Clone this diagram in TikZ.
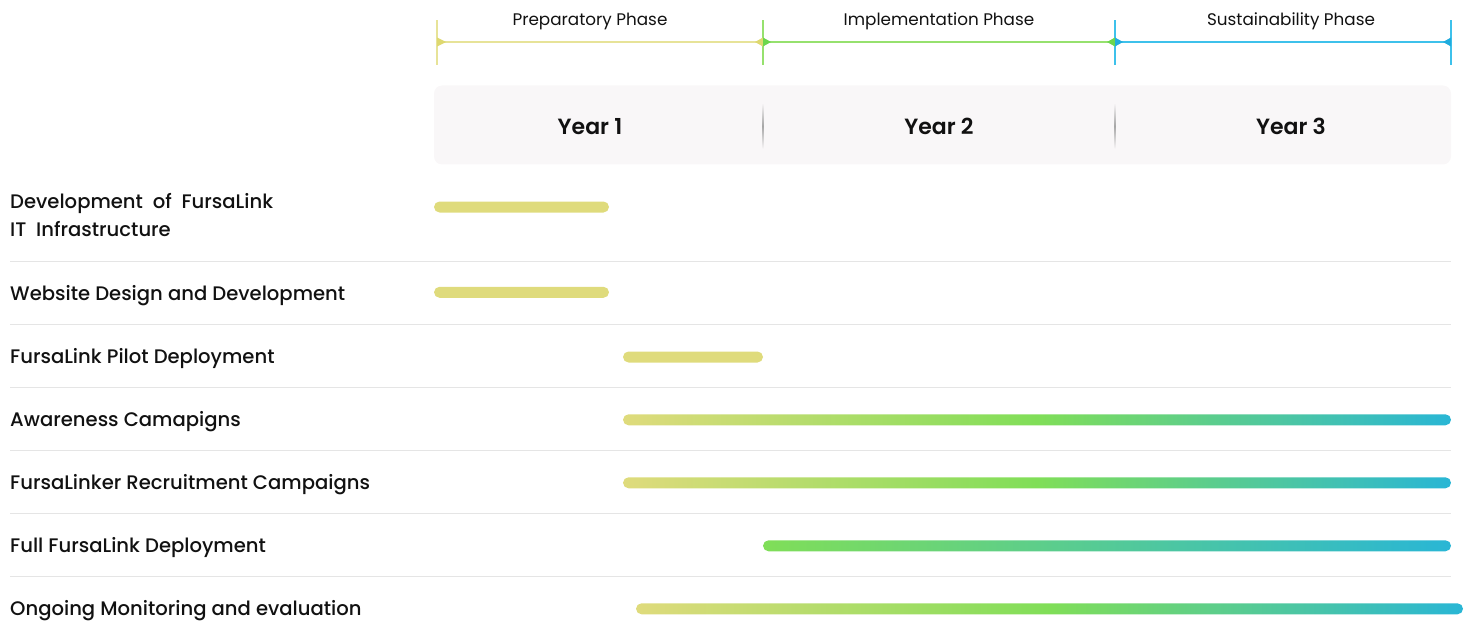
\documentclass[tikz,border=0pt]{standalone}
\usepackage{fontspec}
\setmainfont{Poppins}
\newfontfamily\popmed{Poppins Medium}
\newfontfamily\popsemi{Poppins SemiBold}
\definecolor{barY}{RGB}{223,219,124}
\definecolor{barG}{RGB}{128,222,88}
\definecolor{barB}{RGB}{41,182,213}
\definecolor{lnY}{RGB}{231,227,152}
\definecolor{lnG}{RGB}{150,225,110}
\definecolor{lnB}{RGB}{62,193,235}
\definecolor{tipY}{RGB}{222,216,112}
\definecolor{tipG}{RGB}{108,214,78}
\definecolor{tipB}{RGB}{32,172,222}
\definecolor{boxbg}{RGB}{249,247,248}
\definecolor{rule}{RGB}{229,229,229}
\definecolor{ink}{RGB}{17,17,17}
\tikzset{
  phaselbl/.style={font=\fontsize{16.8}{20}\selectfont, text=ink, inner sep=0pt, anchor=base},
  yearlbl/.style={font=\popsemi\fontsize{22}{26}\selectfont, text=ink, inner sep=0pt, anchor=base},
  tasklbl/.style={font=\popmed\fontsize{19.6}{28.4}\selectfont, text=ink, inner sep=0pt, anchor=base west, align=left},
  rowrule/.style={draw=rule, line width=1.5pt},
  solidbar/.style={fill=barY, rounded corners=5.5pt},
  fullbar/.style={left color=barY, right color=barB, middle color=barG, rounded corners=5.5pt},
  latebar/.style={left color=barG, right color=barB, rounded corners=5.5pt},
}
\begin{document}
\begin{tikzpicture}[x=1pt,y=-1pt]
\useasboundingbox (0,0) rectangle (1473,623);

% phase boundaries
\coordinate (p0) at (437,42);
\coordinate (p1) at (763,42);
\coordinate (p2) at (1115,42);
\coordinate (p3) at (1451,42);

% tick marks
\draw[lnY, line width=1.5pt] ([yshift=-23]p0) -- ([yshift=22]p0);
\draw[lnG, line width=1.5pt] ([yshift=-23]p1) -- ([yshift=22]p1);
\draw[lnB, line width=1.5pt] ([yshift=-23]p2) -- ([yshift=22]p2);
\draw[lnB, line width=1.5pt] ([yshift=-23]p3) -- ([yshift=22]p3);

% phase spans
\draw[lnY, line width=2pt] (p0) -- (p1);
\draw[lnG, line width=2pt] (p1) -- (p2);
\draw[lnB, line width=2pt] (p2) -- (p3);

% end markers
\fill[tipY] (p0) ++(0,-4.5) -- ++(9,4.5) -- ++(-9,4.5) -- cycle;
\fill[tipY] (p1) ++(0,-4.5) -- ++(-8,4.5) -- ++(8,4.5) -- cycle;
\fill[tipG] (p1) ++(0,-4.5) -- ++(8,4.5) -- ++(-8,4.5) -- cycle;
\fill[tipG] (p2) ++(0,-4.5) -- ++(-8,4.5) -- ++(8,4.5) -- cycle;
\fill[tipB] (p2) ++(0,-4.5) -- ++(8,4.5) -- ++(-8,4.5) -- cycle;
\fill[tipB] (p3) ++(0,-4.5) -- ++(-8,4.5) -- ++(8,4.5) -- cycle;

% phase titles
\node[phaselbl] (ph1) at (590,26) {Preparatory Phase};
\node[phaselbl] (ph2) at (939,26) {Implementation Phase};
\node[phaselbl] (ph3) at (1291,26) {Sustainability Phase};

% year header
\fill[boxbg, rounded corners=8pt] (434,85.5) rectangle (1451,164.5);
\shade[top color=boxbg, bottom color=boxbg, middle color=black!35] (762.7,103) rectangle (763.5,149);
\shade[top color=boxbg, bottom color=boxbg, middle color=black!35] (1114.7,103) rectangle (1115.5,149);
\node[yearlbl] (y1) at (590,134.3) {Year 1};
\node[yearlbl] (y2) at (939,134.3) {Year 2};
\node[yearlbl] (y3) at (1291,134.3) {Year 3};

% row separators
\foreach \y in {261.5,324.5,387.5,450.5,513.5,576.7}
  \draw[rowrule] (10,\y) -- (1451,\y);

% task names
\node[tasklbl] (t1) at (10,236.7) {Development\hspace{0.5em}of\hspace{0.5em}FursaLink\\IT\hspace{0.5em}Infrastructure};
\node[tasklbl] (t2) at (10,300) {Website Design and Development};
\node[tasklbl] (t3) at (10,363) {FursaLink Pilot Deployment};
\node[tasklbl] (t4) at (10,426) {Awareness Camapigns};
\node[tasklbl] (t5) at (10,489) {FursaLinker Recruitment Campaigns};
\node[tasklbl] (t6) at (10,552) {Full FursaLink Deployment};
\node[tasklbl] (t7) at (10,615) {Ongoing Monitoring and evaluation};

% activity bars
\path[solidbar] (434,201.5) rectangle (609,212.5);
\path[solidbar] (434,286.8) rectangle (609,297.8);
\path[solidbar] (623,351.5) rectangle (763,362.5);
\path[fullbar] (623,414.3) rectangle (1451,425.3);
\path[fullbar] (623,477.3) rectangle (1451,488.3);
\path[latebar] (763,540.3) rectangle (1451,551.3);
\path[fullbar] (636,603.3) rectangle (1463,614.3);
\end{tikzpicture}
\end{document}
